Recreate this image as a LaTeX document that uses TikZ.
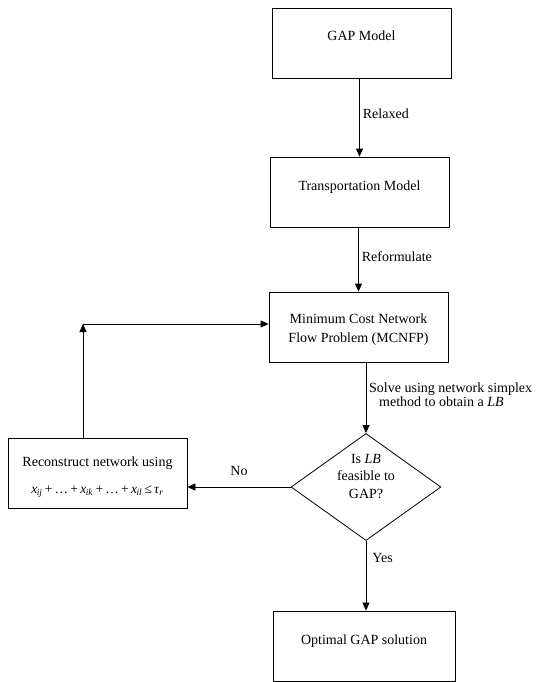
\documentclass[tikz,border=0pt]{standalone}
\usepackage{fontspec}
\setmainfont{Liberation Serif}
\usetikzlibrary{shapes.geometric,arrows.meta}
\newcommand{\vx}[1]{\textit{x}\textsubscript{\kern-0.5pt\textit{#1}}}
\begin{document}
\begin{tikzpicture}[x=1pt,y=-1pt,
  every node/.style={font=\rmfamily\fontsize{14}{19}\selectfont},
  box/.style={draw, line width=0.8pt, minimum width=179pt, minimum height=70pt, align=center, inner sep=0pt},
  onebox/.style={box, text height=10pt, text depth=14pt},
  dec/.style={draw, diamond, line width=0.8pt, aspect=1.4, inner sep=0pt, minimum width=146pt, minimum height=106pt, align=center},
  conn/.style={line width=0.8pt, -{Triangle[length=8pt,width=7pt]}},
  lab/.style={inner sep=0pt, anchor=west}]
\useasboundingbox (0,0) rectangle (536,682);

\node[onebox] (gap) at (361.5,43) {GAP Model};
\node[onebox] (trans) at (359.5,192) {Transportation Model};
\node[box] (mcnfp) at (358.5,327) {\rule{0pt}{14pt}Minimum Cost Network\\Flow Problem (MCNFP)};
\node[dec, font=\rmfamily\fontsize{14}{17.5}\selectfont] (dia) at (366,487) {Is \textit{LB}\\feasible to\\GAP?\\[4pt]};
\node[box] (rec) at (97.5,473) {\rule{0pt}{18pt}Reconstruct network using\\[8pt]{\fontsize{13.5}{15}\selectfont\vx{ij}\,+\,…\,+\,\vx{ik}\,+\,…\,+\,\vx{il}\,≤\,\textit{τ}\textsubscript{\textit{r}}}};
\node[onebox, minimum width=182pt] (opt) at (364,646) {Optimal GAP solution};

\coordinate (fb) at (83,324);

\draw[conn] (gap.south -| trans.north) -- (trans.north) node[lab, pos=0.45, xshift=3pt] (l1) {Relaxed};
\draw[conn] (trans.south -| mcnfp.north) -- (mcnfp.north) node[lab, pos=0.45, xshift=3pt] (l2) {Reformulate};
\draw[conn] (dia.north |- mcnfp.south) -- (dia.north);
\node[lab, align=left, font=\rmfamily\fontsize{14}{14}\selectfont] (l3) at (369,395) {Solve using network simplex\\\hspace*{10pt}method to obtain a \textit{LB}};
\draw[conn] (dia.west) -- (rec.east |- dia.west) node[pos=0.5, above=11pt, inner sep=0pt] (l4) {No};
\draw[conn] (rec.north -| fb) -- (fb);
\draw[conn] (fb) -- (mcnfp.west |- fb);
\draw[conn] (dia.south) -- (opt.north -| dia.south) node[lab, pos=0.25, xshift=6pt] (l5) {Yes};
\end{tikzpicture}
\end{document}
